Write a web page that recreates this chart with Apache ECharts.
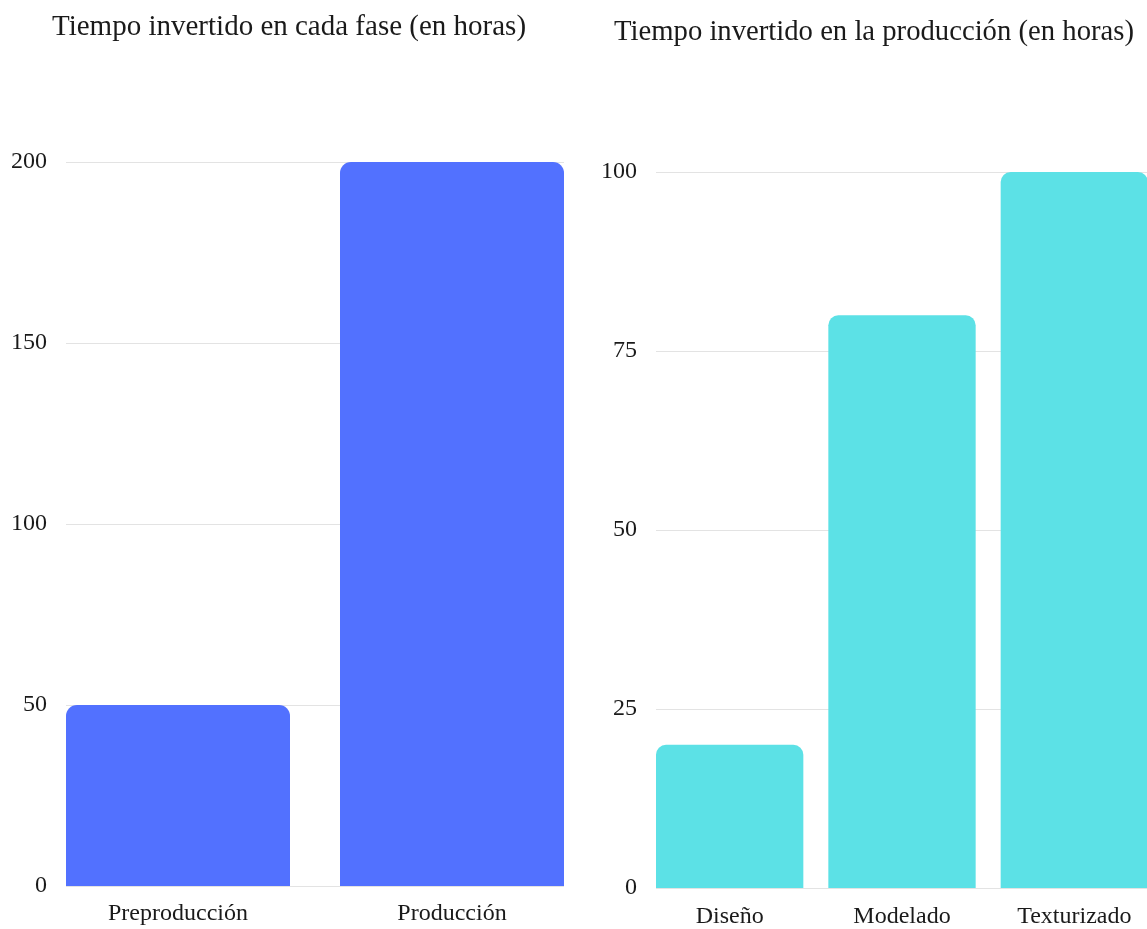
<!DOCTYPE html>
<html><head><meta charset="utf-8">
<script src="https://cdn.jsdelivr.net/npm/echarts@6/dist/echarts.min.js"></script>
<style>html,body{margin:0;padding:0;background:#fff;overflow:hidden}#c{width:1200px;height:929px}</style>
</head><body><div id="c"></div>
<script>
const leftTitle = 'Tiempo invertido en cada fase (en horas)';
const leftCategories = ['Preproducción', 'Producción'];
const leftValues = [50, 200];
const leftTicks = [0, 50, 100, 150, 200];

const rightTitle = 'Tiempo invertido en la producción (en horas)';
const rightCategories = ['Diseño', 'Modelado', 'Texturizado'];
const rightValues = [20, 80, 100];
const rightTicks = [0, 25, 50, 75, 100];

const FONT = '"Liberation Serif", "Times New Roman", serif';
const chart = echarts.init(document.getElementById('c'));
const lblStyle = {fontFamily: FONT, fontSize: 24, color: '#1a1a1a'};
const gridLine = {show: true, lineStyle: {color: '#e3e3e3', width: 1}};

chart.setOption({
  animation: false,
  title: [
    {text: leftTitle, left: 47, top: 8, textStyle: {fontFamily: FONT, fontSize: 29, fontWeight: 'normal', color: '#1a1a1a'}},
    {text: rightTitle, left: 609, top: 13, textStyle: {fontFamily: FONT, fontSize: 28.7, fontWeight: 'normal', color: '#1a1a1a'}}
  ],
  grid: [
    {left: 66, top: 162, width: 498, height: 724},
    {left: 41, top: 162, width: 548, height: 724},
    {left: 656, top: 172, width: 492, height: 716},
    {left: 643.5, top: 172, width: 517, height: 716}
  ],
  xAxis: [
    {gridIndex: 0, type: 'value', min: 0, max: 1, show: false},
    {gridIndex: 1, type: 'category', data: leftCategories, axisLine: {show: false}, axisTick: {show: false},
      axisLabel: Object.assign({margin: 16}, lblStyle)},
    {gridIndex: 2, type: 'value', min: 0, max: 1, show: false},
    {gridIndex: 3, type: 'category', data: rightCategories, axisLine: {show: false}, axisTick: {show: false},
      axisLabel: Object.assign({margin: 17}, lblStyle)}
  ],
  yAxis: [
    {gridIndex: 0, type: 'value', min: leftTicks[0], max: leftTicks[leftTicks.length - 1], interval: leftTicks[1] - leftTicks[0],
      axisLine: {show: false}, axisTick: {show: false}, splitLine: gridLine,
      axisLabel: Object.assign({margin: 19}, lblStyle)},
    {gridIndex: 1, type: 'value', min: leftTicks[0], max: leftTicks[leftTicks.length - 1], show: false, splitLine: {show: false}},
    {gridIndex: 2, type: 'value', min: rightTicks[0], max: rightTicks[rightTicks.length - 1], interval: rightTicks[1] - rightTicks[0],
      axisLine: {show: false}, axisTick: {show: false}, splitLine: gridLine,
      axisLabel: Object.assign({margin: 19}, lblStyle)},
    {gridIndex: 3, type: 'value', min: rightTicks[0], max: rightTicks[rightTicks.length - 1], show: false, splitLine: {show: false}}
  ],
  series: [
    {type: 'bar', xAxisIndex: 1, yAxisIndex: 1, data: leftValues, barCategoryGap: (50 / 274 * 100) + '%',
      itemStyle: {color: '#5271ff', borderRadius: [11, 11, 0, 0]}},
    {type: 'bar', xAxisIndex: 3, yAxisIndex: 3, data: rightValues, barCategoryGap: (25 / 172.33 * 100) + '%',
      itemStyle: {color: '#5ce1e6', borderRadius: [10, 10, 0, 0]}}
  ]
});
</script>
</body></html>
